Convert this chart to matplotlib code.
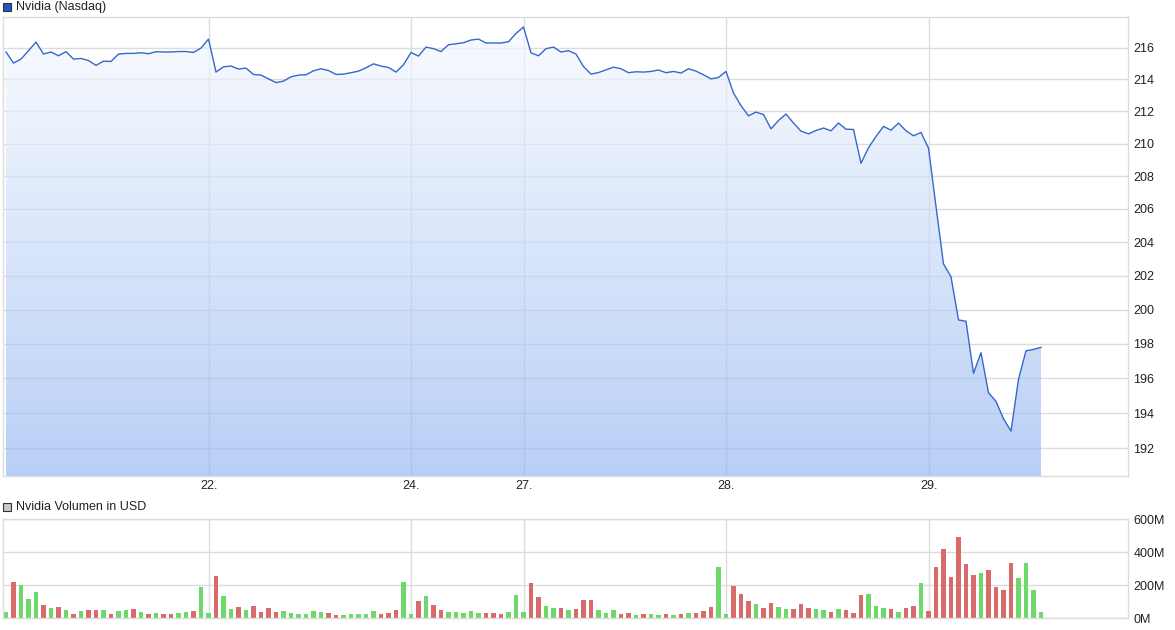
import matplotlib
matplotlib.use('Agg')
import matplotlib.pyplot as plt
import numpy as np

from matplotlib.colors import LinearSegmentedColormap
from matplotlib.patches import Rectangle
from matplotlib.ticker import FixedLocator, NullLocator, FuncFormatter

plt.rcParams['font.family'] = ['Liberation Sans', 'DejaVu Sans']

# Nvidia price, one value per interval
price = [
    215.73, 215.03, 215.28, 215.81, 216.36, 215.60, 215.73, 215.49, 215.75, 215.28,
    215.32, 215.19, 214.88, 215.15, 215.13, 215.60, 215.64, 215.64, 215.68, 215.62,
    215.75, 215.73, 215.73, 215.76, 215.76, 215.70, 215.98, 216.55, 214.46, 214.79,
    214.84, 214.65, 214.71, 214.31, 214.27, 214.03, 213.80, 213.89, 214.16, 214.27,
    214.29, 214.54, 214.67, 214.56, 214.31, 214.33, 214.42, 214.52, 214.73, 214.98,
    214.84, 214.75, 214.46, 214.92, 215.70, 215.47, 216.04, 215.94, 215.76, 216.19,
    216.25, 216.32, 216.49, 216.55, 216.30, 216.30, 216.30, 216.38, 216.91, 217.32,
    215.68, 215.49, 215.94, 216.04, 215.73, 215.81, 215.60, 214.81, 214.33, 214.43,
    214.60, 214.77, 214.67, 214.42, 214.48, 214.46, 214.50, 214.59, 214.42, 214.50,
    214.40, 214.67, 214.52, 214.29, 214.03, 214.12, 214.50, 213.14, 212.35, 211.72,
    211.95, 211.80, 210.91, 211.43, 211.83, 211.27, 210.77, 210.60, 210.81, 210.96,
    210.79, 211.27, 210.89, 210.87, 208.79, 209.74, 210.44, 211.06, 210.83, 211.27,
    210.79, 210.48, 210.69, 209.72, 206.15, 202.70, 201.94, 199.39, 199.31, 196.29,
    197.48, 195.17, 194.67, 193.68, 192.98, 195.94, 197.59, 197.67, 197.79,
]

# volume in million USD
volume_m = [
    38, 220, 202, 117, 160, 81, 63, 69, 50, 26,
    44, 50, 50, 50, 26, 44, 50, 57, 38, 26,
    32, 26, 26, 32, 38, 44, 190, 32, 256, 135,
    57, 69, 50, 75, 38, 63, 38, 44, 32, 26,
    26, 44, 38, 32, 20, 20, 26, 26, 26, 44,
    26, 32, 50, 220, 26, 105, 135, 81, 50, 38,
    38, 32, 44, 32, 32, 32, 26, 38, 141, 38,
    214, 129, 75, 63, 63, 50, 57, 111, 111, 50,
    32, 50, 26, 32, 20, 26, 26, 20, 26, 20,
    26, 32, 32, 44, 69, 311, 26, 196, 147, 105,
    87, 63, 93, 69, 57, 57, 87, 63, 57, 50,
    38, 57, 50, 32, 141, 147, 75, 63, 57, 38,
    63, 75, 214, 44, 311, 420, 251, 493, 329, 263,
    275, 293, 190, 172, 335, 245, 335, 172, 38,
]

# 1 = price up in that interval (green), 0 = down (red)
up = [
    1, 0, 1, 1, 1, 0, 1, 0, 1, 0,
    1, 0, 0, 1, 0, 1, 1, 0, 1, 0,
    1, 0, 0, 1, 1, 0, 1, 1, 0, 1,
    1, 0, 1, 0, 0, 0, 0, 1, 1, 1,
    1, 1, 1, 0, 0, 1, 1, 1, 1, 1,
    0, 0, 0, 1, 1, 0, 1, 0, 0, 1,
    1, 1, 1, 1, 0, 0, 0, 1, 1, 1,
    0, 0, 1, 1, 0, 1, 0, 0, 0, 1,
    1, 1, 0, 0, 1, 0, 1, 1, 0, 1,
    0, 1, 0, 0, 0, 1, 1, 0, 0, 0,
    1, 0, 0, 1, 1, 0, 0, 0, 1, 1,
    0, 1, 0, 0, 0, 1, 1, 1, 0, 1,
    0, 0, 1, 0, 0, 0, 0, 0, 0, 0,
    1, 0, 0, 0, 0, 1, 1, 1, 1,
]

day_labels = ['22.', '24.', '27.', '28.', '29.']
day_index = [27, 54, 69, 96, 123]
price_ticks = list(range(192, 217, 2))
volume_ticks = [0, 200, 400, 600]

W, H = 1175, 630
GRID = '#dcdcdc'


def fig_box(left, top, right, bottom):
    return [left / W, 1 - bottom / H, (right - left) / W, (bottom - top) / H]


def style_axis(ax):
    for s in ax.spines.values():
        s.set_color(GRID)
        s.set_linewidth(1)
    ax.yaxis.tick_right()
    ax.tick_params(axis='both', length=0, labelsize=9, colors='#222222')
    ax.tick_params(axis='y', pad=4)
    ax.xaxis.set_major_locator(FixedLocator(day_index))
    ax.grid(True, color=GRID, linewidth=1)
    ax.set_axisbelow(True)


fig = plt.figure(figsize=(W / 100, H / 100), dpi=100)

x = np.arange(len(price))
xlim = (-0.4, 149.6)

# price panel
ax = fig.add_axes(fig_box(3, 17, 1128, 476))
ax.set_yscale('log')
y_low, y_high = 190.45, 217.96
style_axis(ax)
ax.set_xticklabels(day_labels)
ax.tick_params(axis='x', pad=3)
ax.yaxis.set_major_locator(FixedLocator(price_ticks))
ax.yaxis.set_minor_locator(NullLocator())
ax.yaxis.set_major_formatter(FuncFormatter(lambda v, p: f"{v:.0f}"))
ax.yaxis.set_minor_formatter(FuncFormatter(lambda v, p: ""))

# gradient area, a little see-through so the grid shows under it
area = ax.fill_between(x, price, y_low, facecolor='none', edgecolor='none')
cmap = LinearSegmentedColormap.from_list('fade', ['#92b5f1', '#f8fbff'])
grad = np.linspace(0, 1, 256).reshape(-1, 1)
img = ax.imshow(grad, cmap=cmap, extent=[0, 1, 0, 1], origin='lower', alpha=0.65,
                transform=ax.transAxes, aspect='auto', zorder=1.5)
img.set_clip_path(area.get_paths()[0], ax.transData)
ax.plot(x, price, color='#3568cc', linewidth=1.0, zorder=3)
ax.set_xlim(*xlim)
ax.set_ylim(y_low, y_high)

# volume panel
axv = fig.add_axes(fig_box(3, 519.3, 1128, 618.3))
style_axis(axv)
axv.set_xticklabels([])
colors = ['#6cd96a' if u else '#d96a6a' for u in up]
axv.bar(x, volume_m, width=0.66, color=colors, zorder=2)
axv.yaxis.set_major_locator(FixedLocator(volume_ticks))
axv.yaxis.set_major_formatter(FuncFormatter(lambda v, p: f"{v:.0f}M"))
axv.set_xlim(*xlim)
axv.set_ylim(0, 600)

# panel titles
fig.add_artist(Rectangle((3 / W, 1 - 11 / H), 8 / W, 8 / H, transform=fig.transFigure,
                         facecolor='#1f57c3', edgecolor='#333333', linewidth=0.8))
fig.text(16 / W, 1 - 7 / H, 'Nvidia (Nasdaq)', ha='left', va='center', fontsize=9, color='#222222')
fig.add_artist(Rectangle((3 / W, 1 - 511 / H), 8 / W, 8 / H, transform=fig.transFigure,
                         facecolor='#c8c8c8', edgecolor='#333333', linewidth=0.8))
fig.text(16 / W, 1 - 507 / H, 'Nvidia Volumen in USD', ha='left', va='center', fontsize=9, color='#222222')

fig.savefig('out.png', dpi=100)
